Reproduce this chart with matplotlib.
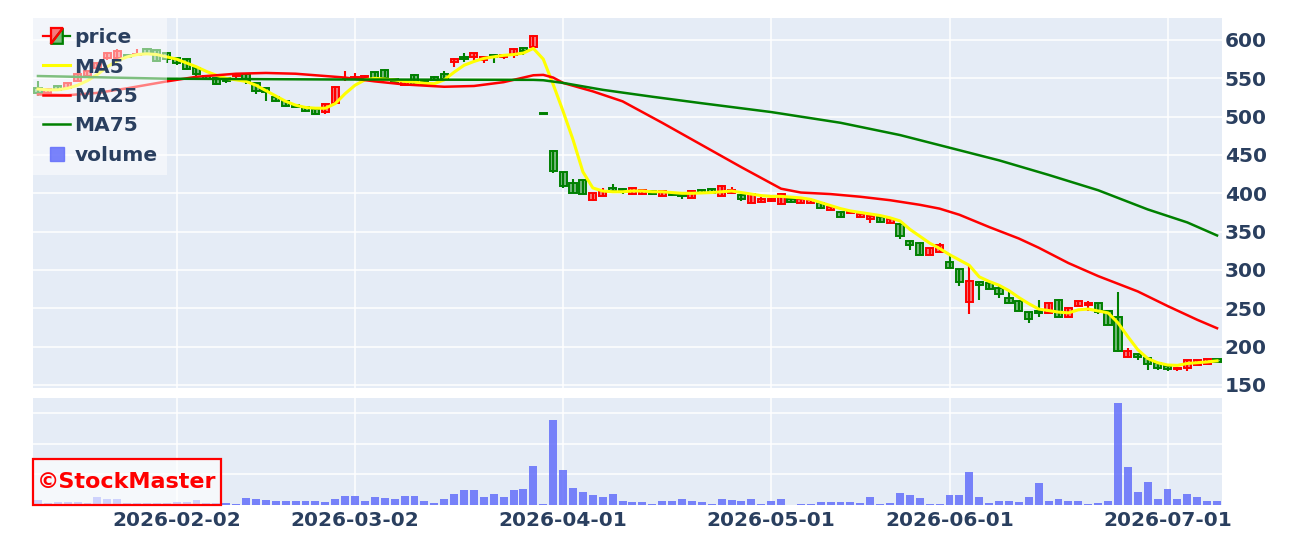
"""StockMaster 스타일 캔들 차트 재현 (가격 + 이동평균 + 거래량)"""

import numpy as np
import pandas as pd
import matplotlib
matplotlib.use("Agg")
import matplotlib.pyplot as plt
from matplotlib.legend_handler import HandlerBase
from matplotlib.patches import Polygon, Rectangle
from matplotlib.lines import Line2D

# ---------------------------------------------------------------- data
# 거래일 (주말 + 일본 공휴일 제외)
holidays = ["2026-02-11", "2026-02-23", "2026-03-20", "2026-04-29",
            "2026-05-04", "2026-05-05", "2026-05-06"]
dates = pd.bdate_range("2026-01-13", "2026-07-08")
dates = dates[~dates.isin(pd.to_datetime(holidays))]

tick_dates = ["2026-02-02", "2026-03-02", "2026-04-01",
              "2026-05-01", "2026-06-01", "2026-07-01"]

opens = [537, 531, 540, 538, 547, 553, 563, 576, 577, 580,
         581, 588.5, 586.5, 583, 577, 575, 563, 553, 550, 550,
         552.5, 555.5, 544, 537, 525, 520.4, 515, 513, 510, 505.7,
         518, 550, 550, 551, 557.8, 561, 549, 541, 554, 547,
         552, 556, 571.7, 577.6, 577.4, 574, 581, 578, 581, 590,
         591.3, 505, 455.5, 427.8, 412.8, 417, 391, 396.6, 407, 406,
         398.7, 398.7, 403, 396.6, 400, 398.7, 394.4, 403.8, 405, 396.6,
         400, 397.9, 387.2, 388.9, 389.7, 385.9, 392.3, 388, 387.2, 386.8,
         378.4, 376.2, 374, 369.2, 366, 369.2, 361.7, 360.4, 337.4, 335.2,
         319.8, 322.9, 311, 300.9, 258, 284.6, 282.4, 277, 264, 259.7,
         245, 246.5, 244, 261, 239, 253.1, 254, 256.6, 246.5, 238.9,
         185.8, 190.3, 184.5, 178.8, 174.3, 170.5, 172.6, 175.7, 177.9, 183.2]
highs = [547, 537, 541, 545, 557, 561, 571, 584, 588, 581,
         588, 589, 588, 584, 578, 577, 564, 554, 551, 552,
         556, 556, 545, 538, 526, 521, 516, 514, 511, 517,
         540, 559, 556.5, 554, 558, 562, 550, 547, 555, 549,
         553, 559, 576, 582.6, 583, 579, 582, 582, 589, 591,
         606, 505, 457, 428, 418.8, 418, 401, 407, 411.5, 406.5,
         407.5, 404, 403.5, 403.5, 400.5, 399, 403.5, 404.5, 405.5, 410.5,
         408.5, 398.7, 399, 397.4, 393.5, 400, 393, 395, 391.5, 387,
         382, 377, 376.5, 375, 371, 370, 367.5, 361.7, 338, 336,
         329, 335.2, 317.6, 301.5, 305, 285, 285, 278.8, 270.8, 260.5,
         245.5, 261, 258.4, 261.5, 251.5, 260, 259.7, 257.5, 247, 270.8,
         197.8, 190.8, 185, 180, 177.9, 173, 183, 183, 183.5, 183.5]
lows = [527, 529, 533, 537, 546, 552, 561, 574, 576, 577,
        580, 581, 571, 570, 568, 561, 552, 548, 541, 544,
        551, 543, 530, 521, 519, 513, 511, 506, 503, 504,
        517, 546.5, 549, 550, 548, 550, 544, 540, 540, 540,
        547, 548, 565, 571.5, 571, 569.6, 570, 575, 576, 580,
        591, 504, 427, 407, 400, 398, 390, 396, 400.9, 398.7,
        398, 398, 398, 396, 397, 392.3, 394, 400.5, 400.5, 396,
        399.5, 390, 387, 388.5, 389, 385.5, 388, 387.5, 387, 380,
        378, 367.4, 373.5, 369, 361.7, 362, 361, 340.5, 326.4, 319.5,
        319.5, 322.5, 302, 278.9, 242, 260.4, 275, 263, 257, 246,
        231, 239, 242, 238.5, 238.5, 252.5, 246.5, 242, 228.5, 193.4,
        185.5, 182.3, 169, 170, 168, 168, 168, 175.5, 177.5, 179.5]
closes = [531, 536, 535, 544, 555, 560, 570, 583, 586, 578,
          582, 582, 573, 575, 569.5, 562, 556, 549, 542.6, 547,
          555.5, 547, 534, 532, 520, 514, 512, 507, 504, 516.5,
          539, 551, 552, 553.5, 549, 551, 545, 546.5, 541, 541,
          548, 549, 575.2, 575, 582.6, 578, 578, 581, 588, 585.6,
          605.6, 504, 428.6, 409.4, 400.9, 398.7, 400.9, 403, 403, 403,
          407, 403.8, 398.7, 403, 397.4, 396.6, 403, 400.9, 401, 410,
          404.3, 393.2, 398.7, 393.2, 393, 399.6, 388.5, 392.5, 391, 380.2,
          381.5, 369.6, 376.2, 372.7, 370.5, 362.6, 367, 344, 333, 319.8,
          328.6, 333, 302.2, 284.6, 286, 281, 275.8, 269.2, 257.5, 246.5,
          236.3, 243.4, 256.6, 239, 251, 259.7, 257.5, 245.6, 228.8, 194.2,
          194.7, 185.8, 177, 172.6, 171.2, 172.6, 182.3, 182.3, 183.2, 180]

# 이동평균
ma5 = [536, 535, 535, 537, 541, 547, 555, 565, 573, 578,
       581, 582, 581, 578, 575, 570, 565, 559, 554, 550,
       548, 546, 541, 534, 527, 520, 515, 512, 511, 511,
       517, 530, 541, 548, 550, 549, 548, 546, 545, 543.5,
       543, 548, 558, 567, 572, 576, 578, 580, 581, 583,
       589, 575, 542, 507, 470, 428, 407, 403, 402, 402,
       403, 403, 402, 402, 401, 400, 400, 400.5, 401, 402,
       403, 401, 399, 397, 396, 396, 395, 394, 392, 388,
       384, 380, 377, 375, 373, 371, 368, 364, 353, 344,
       335, 328, 320, 313, 306, 291, 285, 280, 273, 264,
       256, 249, 247, 245, 244, 248, 249, 246.5, 244, 231,
       213, 196, 184.5, 179, 176, 175.5, 178, 179, 180, 181.4]
ma25_idx = [0, 3, 6, 9, 13, 16, 20, 23, 26, 31, 34, 37, 41, 44, 47, 50, 51,
            52, 53, 56, 59, 63, 67, 71, 75, 77, 80, 83, 86, 89, 91, 93, 96,
            99, 101, 104, 107, 111, 114, 117, 119]
ma25_val = [529, 528, 531, 537, 546, 552, 556, 557, 556, 551, 546, 542, 539,
            540, 545, 554, 554.5, 551, 544, 533, 520, 492, 463, 434, 406, 401,
            399, 395.5, 391, 385, 380, 372, 356, 341, 329, 309, 292, 272, 253,
            235, 224]
ma75_idx = [0, 13, 30, 50, 51, 53, 57, 62, 67, 74, 81, 87, 92, 97, 102, 107,
            112, 116, 119]
ma75_val = [553, 549.5, 548.5, 548, 547.5, 544, 535, 526, 517.5, 506, 492,
            476, 459.5, 443, 424, 404, 379, 362, 345]

# 거래량 (단위: 백만 주)
volume = [0.16, 0.06, 0.11, 0.1, 0.1, 0.05, 0.25, 0.19, 0.19, 0.05,
          0.07, 0.07, 0.07, 0.05, 0.1, 0.1, 0.16, 0.05, 0.05, 0.07,
          0.045, 0.22, 0.2, 0.16, 0.13, 0.13, 0.13, 0.13, 0.13, 0.1,
          0.19, 0.3, 0.3, 0.13, 0.27, 0.22, 0.19, 0.29, 0.3, 0.13,
          0.07, 0.19, 0.37, 0.49, 0.48, 0.27, 0.35, 0.27, 0.5, 0.53,
          1.28, 0.045, 2.78, 1.15, 0.54, 0.44, 0.34, 0.25, 0.37, 0.13,
          0.11, 0.1, 0.045, 0.13, 0.13, 0.19, 0.13, 0.11, 0.045, 0.18,
          0.17, 0.13, 0.21, 0.045, 0.12, 0.21, 0.01, 0.02, 0.02, 0.11,
          0.11, 0.11, 0.11, 0.07, 0.25, 0.045, 0.08, 0.38, 0.34, 0.22,
          0.02, 0.02, 0.33, 0.32, 1.09, 0.27, 0.08, 0.13, 0.13, 0.1,
          0.26, 0.71, 0.13, 0.19, 0.13, 0.13, 0.02, 0.07, 0.13, 3.34,
          1.24, 0.42, 0.75, 0.21, 0.53, 0.21, 0.36, 0.27, 0.13, 0.13]

# ---------------------------------------------------------------- style
BG = "#E5ECF6"
TXT = "#2a3f5f"
UP_LINE, UP_FILL = "#ff0000", (1.0, 0.0, 0.0, 0.5)
DN_LINE, DN_FILL = "#008000", (0.0, 0.5, 0.0, 0.5)
VOL_COLOR = "#636efa"
FONT = {"family": "DejaVu Sans", "weight": "bold", "size": 14.5}


class CandleLegendHandler(HandlerBase):
    """plotly 캔들 범례 아이콘 흉내"""

    def create_artists(self, legend, orig_handle, xdescent, ydescent,
                       width, height, fontsize, trans):
        cy = -ydescent + height / 2
        x0 = -xdescent
        bw = width * 0.45
        bh = height * 1.1
        bx = x0 + (width - bw) / 2
        by = cy - bh / 2
        left = Line2D([x0, bx], [cy, cy], color=UP_LINE, lw=1.6, transform=trans)
        right = Line2D([bx + bw, x0 + width], [cy, cy], color=DN_LINE, lw=1.6,
                       transform=trans)
        up = Polygon([[bx, by], [bx, by + bh], [bx + bw, by + bh]], closed=True,
                     fc=UP_FILL, ec=UP_LINE, lw=1.6, transform=trans)
        dn = Polygon([[bx, by], [bx + bw, by + bh], [bx + bw, by]], closed=True,
                     fc=DN_FILL, ec=DN_LINE, lw=1.6, transform=trans)
        return [left, right, dn, up]


def style_axis(ax):
    ax.set_facecolor(BG)
    for s in ax.spines.values():
        s.set_visible(False)
    ax.grid(True, color="white", linewidth=1.1)
    ax.set_axisbelow(True)
    ax.tick_params(length=0, colors=TXT)


# ---------------------------------------------------------------- plot
W, H = 1291, 543
fig = plt.figure(figsize=(W / 100, H / 100), dpi=100)
ax = fig.add_axes([33 / W, 1 - 388 / H, 1189 / W, 370 / H])
axv = fig.add_axes([33 / W, 1 - 505 / H, 1189 / W, 107 / H], sharex=ax)
style_axis(ax)
style_axis(axv)

x = np.arange(len(dates))
o, h, l, c = map(np.array, (opens, highs, lows, closes))
up = c >= o

# 캔들: 꼬리 -> 몸통
ax.vlines(x, l, h, colors=np.where(up, UP_LINE, DN_LINE), linewidth=1.5, zorder=2)
body_h = np.maximum(np.abs(c - o), 0.4)
ax.bar(x, body_h, bottom=np.minimum(o, c), width=0.72,
       color=[UP_FILL if u else DN_FILL for u in up],
       edgecolor=[UP_LINE if u else DN_LINE for u in up],
       linewidth=1.4, zorder=3)

# 이동평균선
ax.plot(x, ma5, color="#ffff00", linewidth=2.2, zorder=4)
ax.plot(ma25_idx, ma25_val, color="red", linewidth=1.8, zorder=4)
ax.plot(ma75_idx, ma75_val, color="green", linewidth=1.8, zorder=4)

ax.set_xlim(-0.5, len(dates) - 0.5)
ax.set_ylim(146, 628.7)
ax.yaxis.tick_right()
ax.set_yticks(np.arange(150, 601, 50))
ax.tick_params(axis="y", pad=2, labelsize=FONT["size"])
for t in ax.get_yticklabels():
    t.set_fontweight("bold")
ax.tick_params(axis="x", labelbottom=False)

# 거래량
axv.bar(x, volume, width=0.8, color=VOL_COLOR, alpha=0.85, zorder=2)
axv.set_ylim(0, 3.5)
axv.set_yticks([1, 2, 3])
axv.tick_params(axis="y", labelleft=False, labelright=False)
tick_pos = [dates.get_loc(pd.Timestamp(d)) for d in tick_dates]
axv.set_xticks(tick_pos)
axv.set_xticklabels(tick_dates, fontdict=FONT, color=TXT)
axv.tick_params(axis="x", pad=4.5)

# 범례
price_proxy = Rectangle((0, 0), 1, 1)
handles = [price_proxy,
           Line2D([], [], color="#ffff00", lw=2.2),
           Line2D([], [], color="red", lw=1.8),
           Line2D([], [], color="green", lw=1.8),
           Line2D([], [], color=VOL_COLOR, alpha=0.85, marker="s",
                  markersize=10, linestyle="none")]
leg = ax.legend(handles, ["price", "MA5", "MA25", "MA75", "volume"],
                handler_map={price_proxy: CandleLegendHandler()},
                loc="upper left", bbox_to_anchor=(0, 1), borderaxespad=0,
                prop=FONT, labelcolor=TXT, frameon=True, fancybox=False,
                facecolor="white", framealpha=0.5, edgecolor="none",
                handlelength=1.35, handletextpad=0.2, labelspacing=0.52,
                borderpad=0.5)
leg.set_zorder(10)

# 워터마크 (반투명 박스 + 빨간 글씨)
wm_w, wm_h = 188 / 1189, 46 / 107
axv.add_patch(Rectangle((0, 0), wm_w, wm_h, transform=axv.transAxes,
                        facecolor=(1, 1, 1, 0.65), edgecolor="red", lw=1.6,
                        zorder=10, clip_on=False))
axv.text(wm_w / 2, wm_h / 2, "\u00a9StockMaster", transform=axv.transAxes,
         ha="center", va="center", color="red", fontsize=16,
         fontweight="bold", zorder=11)

fig.savefig("out.png", dpi=100, facecolor="white")
